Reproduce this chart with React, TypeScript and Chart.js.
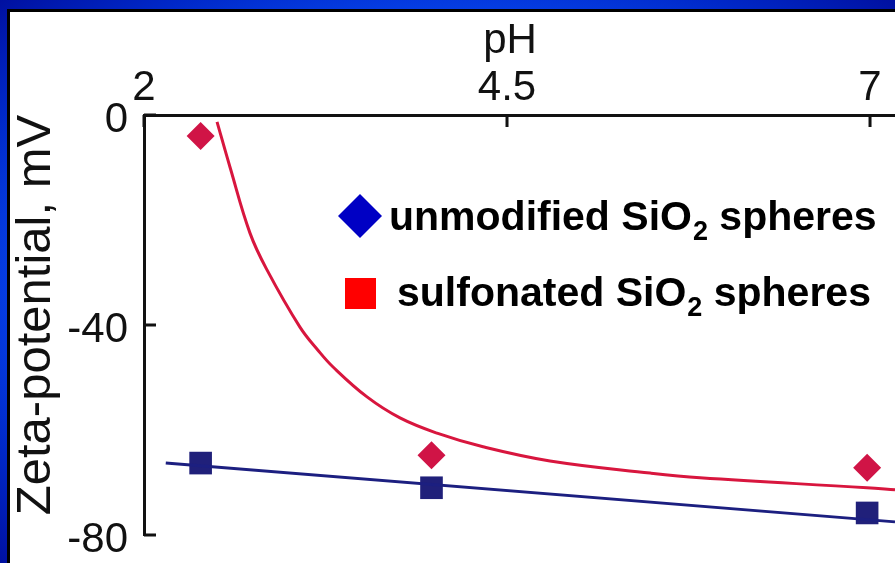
import React, { useEffect, useRef } from 'react';
import { Chart, registerables } from 'chart.js';

Chart.register(...registerables);

// ---- data ----
const xTickValues = [2, 4.5, 7];
const yTickValues = [0, -40, -80];

const phMeasured = [2.39, 3.98, 6.98];
const unmodifiedZeta = [-4.0, -64.8, -67.2];
const sulfonatedZeta = [-66.3, -71.0, -75.8];

const unmodifiedFitPh = [2.503, 2.592, 2.73, 2.847, 3.074, 3.198, 3.302, 3.536, 3.763, 4.018, 4.335, 4.796, 5.485, 5.829, 6.979, 7.172];
const unmodifiedFitZeta = [-1.3, -9.9, -22.5, -29.5, -40.4, -44.8, -48.0, -53.7, -57.7, -60.6, -63.2, -65.9, -68.2, -69.1, -71.0, -71.4];

const sulfonatedFitPh = [2.15, 7.172];
const sulfonatedFitZeta = [-66.3, -77.5];

const legendPre = ['unmodified SiO', 'sulfonated SiO'];
const legendSub = ['2', '2'];
const legendPost = [' spheres', ' spheres'];

const xTitle = 'pH';
const yTitle = 'Zeta-potential, mV';

// ---- styles ----
const CRIMSON_PT = '#d01446';
const CRIMSON_LINE = '#d8163e';
const NAVY_PT = '#20207a';
const NAVY_LINE = '#1c1f80';
const AXIS = '#111111';
const FONT = "'Liberation Sans', Arial, Helvetica, sans-serif";

const zip = (xs: number[], ys: number[]) => xs.map((x, i) => ({ x, y: ys[i] }));

const innerTicksAndLegend = {
  id: 'innerTicksAndLegend',
  afterDraw(chart: any) {
    const { ctx, chartArea, scales } = chart;
    const xs = scales.x;
    const ys = scales.y;
    ctx.save();
    ctx.strokeStyle = AXIS;
    ctx.lineWidth = 3;
    ctx.beginPath();
    xTickValues.forEach((v) => {
      const px = xs.getPixelForValue(v);
      ctx.moveTo(px, chartArea.top);
      ctx.lineTo(px, chartArea.top + 12);
    });
    yTickValues.forEach((v) => {
      const py = ys.getPixelForValue(v);
      ctx.moveTo(chartArea.left, py);
      ctx.lineTo(chartArea.left + 12, py);
    });
    ctx.stroke();

    // axis titles
    ctx.fillStyle = AXIS;
    ctx.textAlign = 'center';
    ctx.textBaseline = 'middle';
    ctx.font = `42px ${FONT}`;
    ctx.fillText(xTitle, 510, 41);
    ctx.save();
    ctx.translate(36, 315);
    ctx.rotate(-Math.PI / 2);
    ctx.font = `49px ${FONT}`;
    ctx.fillText(yTitle, 0, 0);
    ctx.restore();

    // legend: marker 1 (blue diamond), marker 2 (red square)
    ctx.fillStyle = '#0000c4';
    ctx.beginPath();
    const cx = 360, cy = 216, r = 22;
    ctx.moveTo(cx - r, cy);
    ctx.lineTo(cx, cy - r);
    ctx.lineTo(cx + r, cy);
    ctx.lineTo(cx, cy + r);
    ctx.closePath();
    ctx.fill();
    ctx.fillStyle = '#ff0000';
    ctx.fillRect(345, 278, 31, 31);

    const starts = [389, 397];
    const baselines = [230, 306];
    ctx.fillStyle = '#000000';
    ctx.textBaseline = 'alphabetic';
    ctx.textAlign = 'left';
    for (let i = 0; i < legendPre.length; i++) {
      let x = starts[i];
      const b = baselines[i];
      ctx.font = `bold 41px ${FONT}`;
      ctx.fillText(legendPre[i], x, b);
      x += ctx.measureText(legendPre[i]).width;
      ctx.font = `bold 27px ${FONT}`;
      ctx.fillText(legendSub[i], x + 1, b + 10);
      x += ctx.measureText(legendSub[i]).width + 1;
      ctx.font = `bold 41px ${FONT}`;
      ctx.fillText(legendPost[i], x, b);
    }
    ctx.restore();
  },
};

export default function App() {
  const ref = useRef<HTMLCanvasElement | null>(null);

  useEffect(() => {
    if (!ref.current) return;
    const chart = new Chart(ref.current, {
      type: 'line',
      data: {
        datasets: [
          {
            label: 'unmodified SiO₂ spheres (fit)',
            data: zip(unmodifiedFitPh, unmodifiedFitZeta),
            borderColor: CRIMSON_LINE,
            borderWidth: 3,
            pointRadius: 0,
            tension: 0.4,
            fill: false,
          },
          {
            label: 'sulfonated SiO₂ spheres (fit)',
            data: zip(sulfonatedFitPh, sulfonatedFitZeta),
            borderColor: NAVY_LINE,
            borderWidth: 3,
            pointRadius: 0,
            fill: false,
          },
          {
            label: 'unmodified SiO₂ spheres',
            data: zip(phMeasured, unmodifiedZeta),
            showLine: false,
            pointStyle: 'rectRot',
            pointRadius: 14,
            backgroundColor: CRIMSON_PT,
            borderColor: CRIMSON_PT,
            borderWidth: 0,
          },
          {
            label: 'sulfonated SiO₂ spheres',
            data: zip(phMeasured, sulfonatedZeta),
            showLine: false,
            pointStyle: 'rect',
            pointRadius: 16,
            backgroundColor: NAVY_PT,
            borderColor: NAVY_PT,
            borderWidth: 0,
          },
        ],
      },
      options: {
        animation: false,
        responsive: false,
        clip: false as any,
        layout: { padding: { left: 0, top: 0, right: 0, bottom: 28 } },
        plugins: {
          legend: { display: false },
          tooltip: { enabled: false },
        },
        scales: {
          x: {
            type: 'linear',
            position: 'top',
            min: 2,
            max: 7.172,
            afterBuildTicks: (s: any) => {
              s.ticks = xTickValues.map((v) => ({ value: v }));
            },
            afterFit: (s: any) => {
              s.height = 115;
              s.paddingLeft = 0;
              s.paddingRight = 0;
              s.paddingTop = 0;
              s.paddingBottom = 0;
            },
            grid: { display: false, drawTicks: false },
            border: { display: true, width: 3, color: AXIS },
            ticks: {
              color: AXIS,
              font: { family: FONT, size: 42, lineHeight: 1 },
              padding: 6,
              maxRotation: 0,
              autoSkip: false,
              callback: (v: any) => String(v),
            },
            title: { display: false },
          },
          y: {
            type: 'linear',
            position: 'left',
            min: -80,
            max: 0,
            afterBuildTicks: (s: any) => {
              s.ticks = yTickValues.map((v) => ({ value: v }));
            },
            afterFit: (s: any) => {
              s.width = 144;
              s.paddingLeft = 0;
              s.paddingRight = 0;
              s.paddingTop = 0;
              s.paddingBottom = 0;
            },
            grid: { display: false, drawTicks: false },
            border: { display: true, width: 3, color: AXIS },
            ticks: {
              color: AXIS,
              font: { family: FONT, size: 42, lineHeight: 1 },
              padding: 16,
              labelOffset: 5,
              callback: (v: any) => String(v),
            },
            title: { display: false },
          },
        },
      },
      plugins: [innerTicksAndLegend],
    } as any);
    return () => chart.destroy();
  }, []);

  return (
    <div
      style={{
        position: 'fixed',
        left: 0,
        top: 0,
        width: 895,
        height: 563,
        overflow: 'hidden',
        background:
          'radial-gradient(ellipse farthest-corner at 50% 50%, #2a6cff 0%, #0848f0 62%, #0028c8 82%, #0010a0 100%)',
      }}
    >
      <div
        style={{
          position: 'absolute',
          left: 7,
          top: 9,
          width: 920,
          height: 570,
          background: '#ffffff',
          borderLeft: '3px solid #000',
          borderTop: '3px solid #000',
        }}
      />
      <canvas
        ref={ref}
        width={911}
        height={563}
        style={{ position: 'absolute', left: 0, top: 0, width: 911, height: 563 }}
      />
    </div>
  );
}
